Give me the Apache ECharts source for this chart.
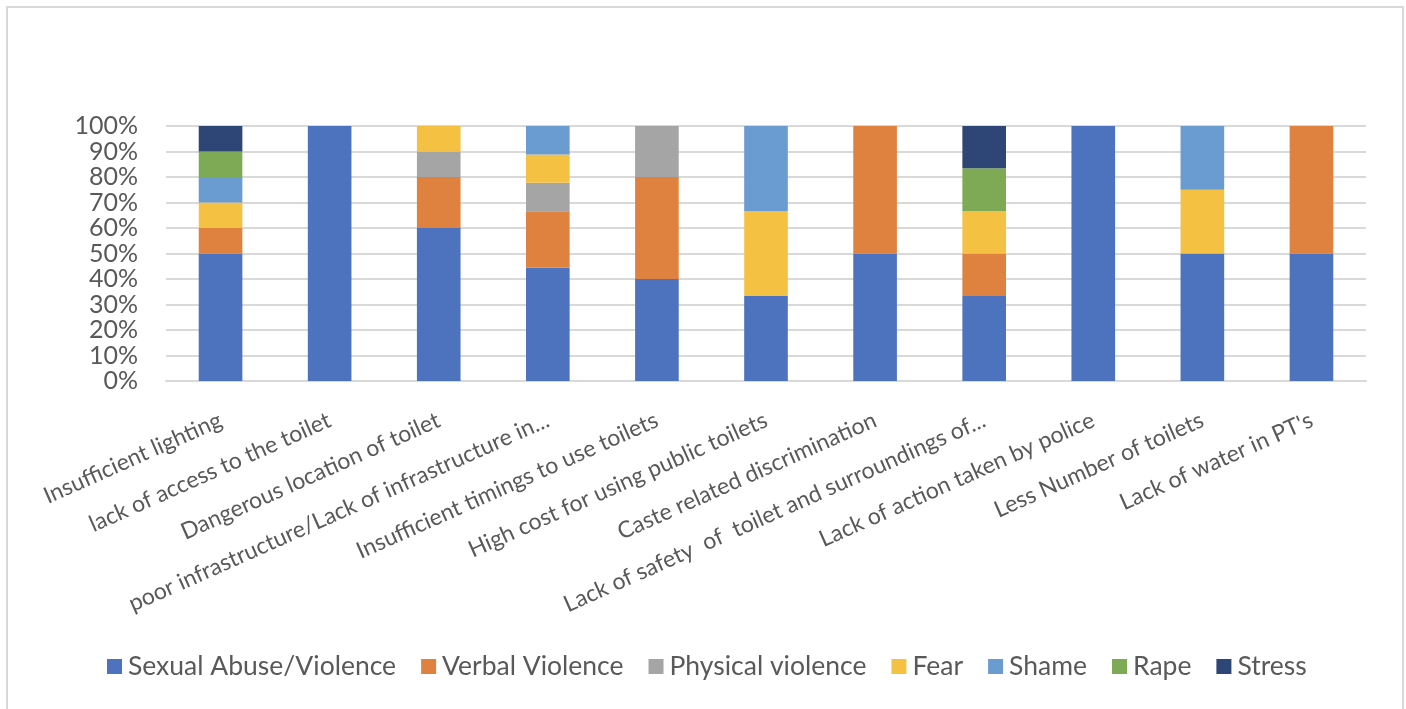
<!DOCTYPE html>
<html>
<head>
<meta charset="utf-8">
<script src="https://cdn.jsdelivr.net/npm/echarts@6/dist/echarts.min.js"></script>
<style>
html,body{margin:0;padding:0;background:#fff;}
#chart{width:1406px;height:709px;}
</style>
</head>
<body>
<div id="chart"></div>
<script>
var categories = [
  "Insufficient lighting",
  "lack of access to the toilet",
  "Dangerous location of toilet",
  "poor infrastructure/Lack of infrastructure in...",
  "Insufficient timings to use toilets",
  "High cost for using public toilets",
  "Caste related discrimination",
  "Lack of safety  of  toilet and surroundings of...",
  "Lack of action taken by police",
  "Less Number of toilets",
  "Lack of water in PT's"
];
var seriesNames = ["Sexual Abuse/Violence", "Verbal Violence", "Physical violence", "Fear", "Shame", "Rape", "Stress"];
var sexualAbuse = [50, 100, 60, 44.4, 40, 33.3, 50, 33.3, 100, 50, 50];
var verbalViolence = [10, 0, 20, 22.2, 40, 0, 50, 16.7, 0, 0, 50];
var physicalViolence = [0, 0, 10, 11.1, 20, 0, 0, 0, 0, 0, 0];
var fear = [10, 0, 10, 11.1, 0, 33.3, 0, 16.7, 0, 25, 0];
var shame = [10, 0, 0, 11.2, 0, 33.4, 0, 0, 0, 25, 0];
var rape = [10, 0, 0, 0, 0, 0, 0, 16.7, 0, 0, 0];
var stress = [10, 0, 0, 0, 0, 0, 0, 16.6, 0, 0, 0];
var yTicks = [0, 10, 20, 30, 40, 50, 60, 70, 80, 90, 100];

var colors = ["#4D72BE", "#E0823F", "#A5A5A5", "#F5C142", "#6A9CD2", "#7FAA55", "#2E4676"];
var values = [sexualAbuse, verbalViolence, physicalViolence, fear, shame, rape, stress];

var chart = echarts.init(document.getElementById('chart'));
var FONT = 'Lato';
chart.setOption({
  animation: false,
  color: colors,
  graphic: [{
    type: 'rect',
    shape: {x: 7, y: 7, width: 1396, height: 730},
    style: {fill: 'none', stroke: '#d9d9d9', lineWidth: 2},
    silent: true
  }],
  grid: {left: 166, right: 40, top: 126, bottom: 328, containLabel: false},
  legend: {
    bottom: 24,
    left: 102,
    itemWidth: 15,
    itemHeight: 15,
    itemGap: 25,
    icon: 'rect',
    textStyle: {fontFamily: FONT, fontSize: 26.5, color: '#595959', padding: [0, 0, 0, 1]},
    data: seriesNames
  },
  xAxis: {
    type: 'category',
    data: categories,
    axisLine: {show: true, lineStyle: {color: '#d9d9d9', width: 2}},
    axisTick: {show: false},
    axisLabel: {
      interval: 0,
      rotate: 24,
      margin: 38,
      fontFamily: FONT,
      fontSize: 23,
      color: '#595959'
    }
  },
  yAxis: {
    type: 'value',
    min: yTicks[0],
    max: yTicks[yTicks.length - 1],
    interval: 10,
    axisLine: {show: false},
    axisTick: {show: false},
    splitLine: {lineStyle: {color: '#d9d9d9', width: 2}},
    axisLabel: {
      formatter: '{value}%',
      margin: 28,
      fontFamily: FONT,
      fontSize: 25,
      color: '#595959'
    }
  },
  series: seriesNames.map(function (name, i) {
    return {
      name: name,
      type: 'bar',
      stack: 'total',
      barWidth: '40%',
      data: values[i]
    };
  })
});
</script>
</body>
</html>
